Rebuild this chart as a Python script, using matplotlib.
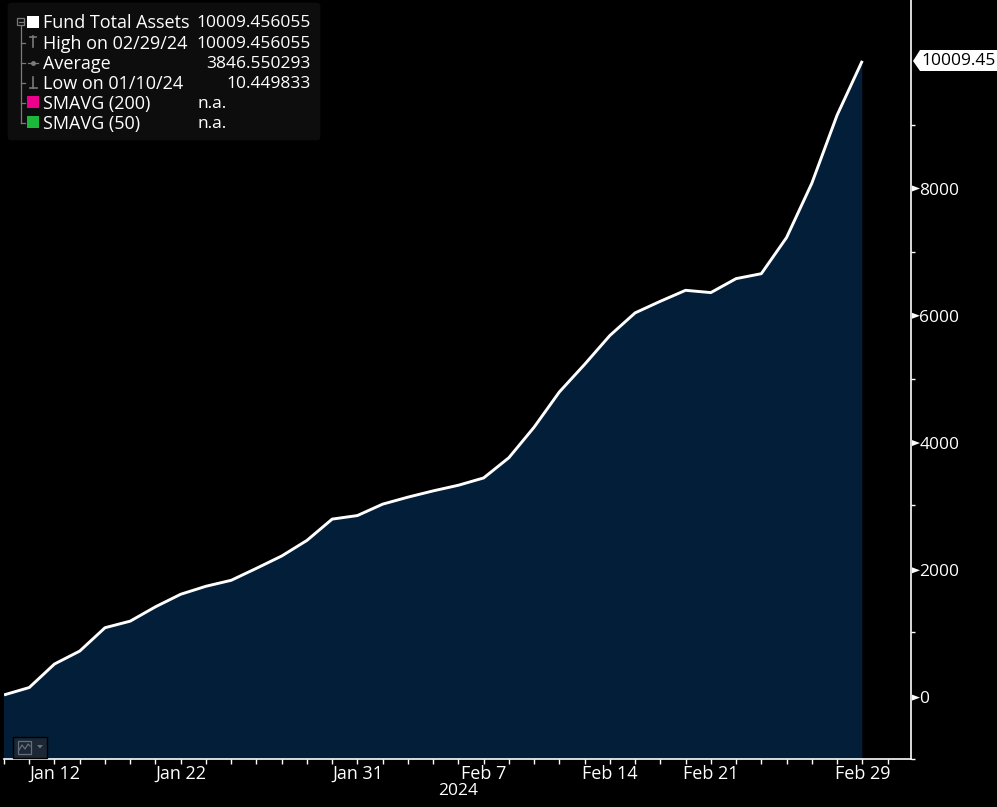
import matplotlib
matplotlib.use('Agg')
import matplotlib.pyplot as plt
from matplotlib.patches import FancyBboxPatch, Rectangle, Polygon
from matplotlib.transforms import ScaledTranslation

# Data
days = ['Jan 10', 'Jan 11', 'Jan 12', 'Jan 16', 'Jan 17', 'Jan 18', 'Jan 19',
        'Jan 22', 'Jan 23', 'Jan 24', 'Jan 25', 'Jan 26', 'Jan 29', 'Jan 30', 'Jan 31',
        'Feb 1', 'Feb 2', 'Feb 5', 'Feb 6', 'Feb 7', 'Feb 8', 'Feb 9',
        'Feb 12', 'Feb 13', 'Feb 14', 'Feb 15', 'Feb 16', 'Feb 20', 'Feb 21', 'Feb 22', 'Feb 23',
        'Feb 26', 'Feb 27', 'Feb 28', 'Feb 29']
assets = [10.449833, 127, 498, 702, 1070, 1174, 1400,
          1598, 1724, 1818, 2007, 2201, 2447, 2783, 2839,
          3019, 3129, 3228, 3317, 3432, 3751, 4233,
          4788, 5223, 5678, 6035, 6218, 6391, 6355, 6575, 6653,
          7223, 8078, 9151, 10009.456055]
labelled_days = ['Jan 12', 'Jan 22', 'Jan 31', 'Feb 7', 'Feb 14', 'Feb 21', 'Feb 29']
major_y = [0, 2000, 4000, 6000, 8000]
minor_y = [-1000, 1000, 3000, 5000, 7000, 9000]

legend_names = ['Fund Total Assets', 'High on 02/29/24', 'Average', 'Low on 01/10/24',
                'SMAVG (200)', 'SMAVG (50)']
legend_values = ['10009.456055', '10009.456055', '3846.550293', '10.449833', 'n.a.', 'n.a.']

W, H = 997, 807
FS = 12.5
plt.rcParams['font.family'] = ['Open Sans', 'DejaVu Sans']
fig = plt.figure(figsize=(W / 100, H / 100), dpi=100, facecolor='black')

# plot area, given in pixels
ax = fig.add_axes([3.5 / W, 1 - 759 / H, (911 - 3.5) / W, 759 / H], facecolor='black')
x = list(range(len(days)))
ax.fill_between(x, assets, -5000, color='#021e38', lw=0)
ax.plot(x, assets, color='white', lw=2.1, solid_capstyle='butt')
ax.set_xlim(-0.02, 35.93)
ax.set_ylim(-957, 10969)

for s in ['top', 'left']:
    ax.spines[s].set_visible(False)
for s in ['right', 'bottom']:
    ax.spines[s].set_color('white')
    ax.spines[s].set_linewidth(1.2)

ax.yaxis.tick_right()
ax.set_yticks(major_y)
ax.set_yticks(minor_y, minor=True)
ax.tick_params(axis='y', which='major', length=0, labelcolor='white', labelsize=FS, pad=6)
ax.tick_params(axis='y', which='minor', length=3, width=1, color='white')
# labels sit a touch lower than matplotlib centres them
for lab in ax.get_yticklabels():
    lab.set_transform(lab.get_transform() + ScaledTranslation(0, -1 / 100, fig.dpi_scale_trans))

ax.set_xticks(x + [len(days)])
ax.set_xticklabels([d if d in labelled_days else '' for d in days] + [''])
ax.tick_params(axis='x', length=3.5, width=1, color='white', labelcolor='white', labelsize=13, pad=0.5)

# overlay in pixel coordinates for the terminal furniture
ov = fig.add_axes([0, 0, 1, 1], facecolor='none')
ov.set_xlim(0, W)
ov.set_ylim(H, 0)
ov.axis('off')

ov.text(458, 791, '2024', color='white', fontsize=FS, ha='center', va='center')

# y tick arrows
for v in major_y:
    py = 697.6 - v * 0.06364
    ov.add_patch(Polygon([[912, py - 3], [912, py + 3], [920, py]], color='white', lw=0))

# last value tag
ov.add_patch(Polygon([[913, 61], [920, 50], [997, 50], [997, 71], [920, 71]], color='white', lw=0))
ov.text(921, 61, '10009.45', color='black', fontsize=FS, va='center', ha='left')

# legend box
ov.add_patch(FancyBboxPatch((8, 3), 312, 137, boxstyle='round,pad=0,rounding_size=3',
                            fc='#0d0d0d', ec='#0d0d0d', lw=0.5))
rows = [22, 43, 63, 83, 103, 123]
for name, val, py in zip(legend_names, legend_values, rows):
    ov.text(43, py + 1, name, color='white', fontsize=13, va='center', ha='left')
    if val == 'n.a.':
        ov.text(197, py + 1, val, color='white', fontsize=FS, va='center', ha='left')
    else:
        ov.text(311, py + 1, val, color='white', fontsize=FS, va='center', ha='right')

tree = '#7a7a7a'
ov.plot([20.5, 20.5], [25, 123], color=tree, lw=0.9)
for py in rows[1:]:
    ov.plot([20.5, 25], [py, py], color=tree, lw=0.9)
ov.add_patch(Rectangle((17, 18), 7, 7, fc='#0d0d0d', ec=tree, lw=0.9, zorder=3))
ov.plot([18.5, 22.5], [21.5, 21.5], color=tree, lw=0.9, zorder=4)

ov.add_patch(Rectangle((27, 16), 12, 12, color='white', lw=0))
ov.add_patch(Rectangle((27, 96), 12, 12, color='#ec008c', lw=0))
ov.add_patch(Rectangle((27, 116), 12, 12, color='#1bb83c', lw=0))
# high / average / low glyphs
ov.plot([33, 33], [36, 47], color=tree, lw=1.2)
ov.plot([30, 36], [36.5, 36.5], color=tree, lw=1.2)
ov.plot([28, 38], [62.5, 62.5], color=tree, lw=0.9)
ov.plot([33], [62.5], marker='o', ms=3, mfc=tree, mec=tree, mew=0.5)
ov.plot([33, 33], [77, 88], color=tree, lw=1.2)
ov.plot([30, 37], [87.5, 87.5], color=tree, lw=1.2)

# small chart type button
ov.add_patch(Rectangle((12.5, 736.5), 34, 21, fc='#1b2735', ec='black', lw=1))
ov.add_patch(Rectangle((17.5, 740.5), 13, 13, fc='none', ec='#66707c', lw=0.9))
ov.plot([19, 22, 25, 28, 30], [750, 745, 749, 744, 746], color='#66707c', lw=0.9)
ov.add_patch(Polygon([[37, 745], [43, 745], [40, 748.5]], color='#66707c', lw=0))

fig.savefig('out.png', dpi=100, facecolor='black')
